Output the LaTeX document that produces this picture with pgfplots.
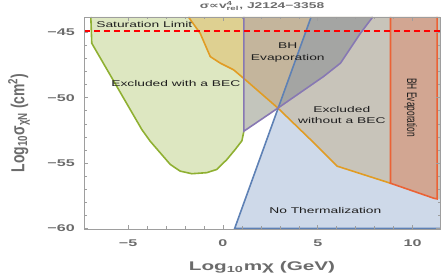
\documentclass[border=0pt]{standalone}
\usepackage{pgfplots}
\pgfplotsset{compat=1.18}
\usepackage{fontspec}
\setmainfont{Liberation Sans}
\newfontfamily\dejavu{DejaVu Sans}
\usepackage{graphicx}
\definecolor{mblue}{rgb}{0.368417,0.506779,0.709798}
\definecolor{morange}{rgb}{0.880722,0.611041,0.142051}
\definecolor{mgreen}{rgb}{0.560181,0.691569,0.194885}
\definecolor{mred}{rgb}{0.922526,0.385626,0.209179}
\definecolor{mpurple}{rgb}{0.528488,0.470624,0.701351}
\definecolor{tickgray}{gray}{0.42}
\definecolor{framegray}{gray}{0.62}
\definecolor{txt}{gray}{0.12}
\newcommand{\hs}[1]{\scalebox{1.65}[1]{#1}}
\newcommand{\vs}[1]{\scalebox{1}[1.65]{#1}}
\begin{document}
\begin{tikzpicture}
\begin{axis}[
 name=ax,
 at={(0,0)}, anchor=south west, scale only axis,
 width=356bp, height=212bp,
 xmin=-7.33, xmax=11.45, ymin=-60.05, ymax=-43.83,
 axis on top,
 axis line style={framegray, line width=0.6pt},
 xtick={-5,0,5,10}, xticklabels={\hs{−5},\hs{0},\hs{5},\hs{10}},
 ytick={-60,-55,-50,-45}, yticklabels={\hs{−60},\hs{−55},\hs{−50},\hs{−45}},
 minor x tick num=4, minor y tick num=4,
 tick align=inside, major tick length=4bp, minor tick length=2.5bp,
 every tick/.style={framegray, line width=0.5pt},
 ticklabel style={font=\fontsize{9.8}{10}\selectfont\bfseries, text=tickgray},
 xticklabel style={anchor=center, yshift=-14bp},
 yticklabel style={anchor=east, inner sep=0pt, inner xsep=9bp},
 xlabel={\hs{\fontsize{12.6}{13}\selectfont\bfseries Log\textsubscript{10}mχ (GeV)}},
 xlabel style={at={(axis description cs:0.5,0)}, anchor=center, yshift=-38bp, text=tickgray},
 title={\hs{\fontsize{8.4}{9}\selectfont\bfseries σ{\dejavu ∝}v\rlap{\textsuperscript{4}}\textsubscript{rel}, J2124−3358}},
 title style={at={(axis description cs:0.5,1)}, anchor=center, yshift=5bp, text=tickgray},
]
% green: excluded with a BEC
\addplot[draw=none, fill=mgreen, fill opacity=0.3] coordinates {
(-6.97,-43.83) (-6.92,-45.84) (-4.28,-52.44) (-3.84,-53.33) (-3.31,-54.22) (-2.78,-55.11) (-2.26,-55.62) (-1.64,-55.82) (-0.85,-55.74) (-0.32,-55.49) (0.21,-54.73) (0.65,-53.96) (1.0,-53.3) (1.1,-52.6) (2.9,-50.8) (5.31,-48.38) (6.2,-47.36) (7.25,-45.08) (7.9,-43.83)} -- cycle;
% orange: excluded without a BEC
\addplot[draw=none, fill=morange, fill opacity=0.3] coordinates {
(-1.82,-43.83) (-1.2,-45.08) (-0.67,-46.86) (-0.14,-47.36) (0.56,-47.87) (1.18,-48.63) (2.9,-50.8) (4.79,-53.45) (6.02,-55.24) (8.84,-56.55) (11.13,-57.7) (11.45,-57.75) (11.45,-43.83)} -- cycle;
% purple: BH evaporation
\addplot[draw=none, fill=mpurple, fill opacity=0.3] coordinates {
(1.1,-43.83) (1.1,-52.57) (2.9,-50.8) (5.31,-48.38) (6.2,-47.36) (7.25,-45.08) (7.9,-43.83)} -- cycle;
% blue: no thermalization
\addplot[draw=none, fill=mblue, fill opacity=0.3] coordinates {
(0.62,-60) (4.65,-43.83) (11.45,-43.83) (11.45,-60)} -- cycle;
% red: BH evaporation (heavy)
\addplot[draw=none, fill=mred, fill opacity=0.3] coordinates {
(8.84,-43.83) (8.84,-56.55) (11.13,-57.7) (11.3,-57.75) (11.3,-43.83)} -- cycle;
% edges
\addplot[mgreen, line width=1.6pt] coordinates {
(-6.97,-43.83) (-6.92,-45.84) (-4.28,-52.44) (-3.84,-53.33) (-3.31,-54.22) (-2.78,-55.11) (-2.26,-55.62) (-1.64,-55.82) (-0.85,-55.74) (-0.32,-55.49) (0.21,-54.73) (0.65,-53.96) (1.0,-53.3) (1.1,-52.6)};
\addplot[morange, line width=1.6pt] coordinates {
(-1.82,-43.83) (-1.2,-45.08) (-0.67,-46.86) (-0.14,-47.36) (0.56,-47.87) (1.18,-48.63) (2.9,-50.8) (4.79,-53.45) (6.02,-55.24) (8.84,-56.55)};
\addplot[mblue, line width=1.6pt] coordinates {(4.65,-43.83) (0.62,-60) (11.45,-60)};
\addplot[mpurple, line width=1.6pt] coordinates {
(1.1,-43.83) (1.1,-52.57) (2.9,-50.8) (5.31,-48.38) (6.2,-47.36) (7.25,-45.08) (7.9,-43.83)};
\addplot[mred, line width=1.6pt] coordinates {
(8.84,-43.83) (8.84,-56.55) (11.13,-57.7) (11.3,-57.75) (11.3,-43.83)};
% saturation limit
\addplot[red, line width=1.4pt, dash pattern=on 6bp off 4bp] coordinates {(-7.33,-44.9) (11.45,-44.9)};
% labels
\begin{scope}[every node/.style={font=\fontsize{8.4}{10}\selectfont, text=txt, inner sep=0pt}]
\node[anchor=west] at (axis cs:-6.69,-44.37) {\hs{Saturation Limit}};
\node[anchor=west] at (axis cs:-5.9,-48.94) {\hs{Excluded with a BEC}};
\node[align=center] at (axis cs:3.42,-46.56) {\hs{BH}\\[1.5pt]\hs{Evaporation}};
\node[align=center] at (axis cs:6.27,-51.32) {\hs{Excluded}\\[1.5pt]\hs{without a BEC}};
\node at (axis cs:5.4,-58.66) {\hs{No Thermalization}};
\node[rotate=-90] at (axis cs:9.9,-50.77) {\vs{BH Evaporation}};
\end{scope}
\end{axis}
\node[rotate=90, anchor=center, inner sep=0pt, text=tickgray] at ([xshift=-65bp]ax.west)
 {\scalebox{1}[1.35]{\fontsize{14}{15}\selectfont\bfseries Log\textsubscript{10}σ\textsubscript{χN} (cm\textsuperscript{2})}};
\pgfresetboundingbox
\useasboundingbox (-84bp,-48bp) rectangle (359bp,229bp);
\end{tikzpicture}
\end{document}
